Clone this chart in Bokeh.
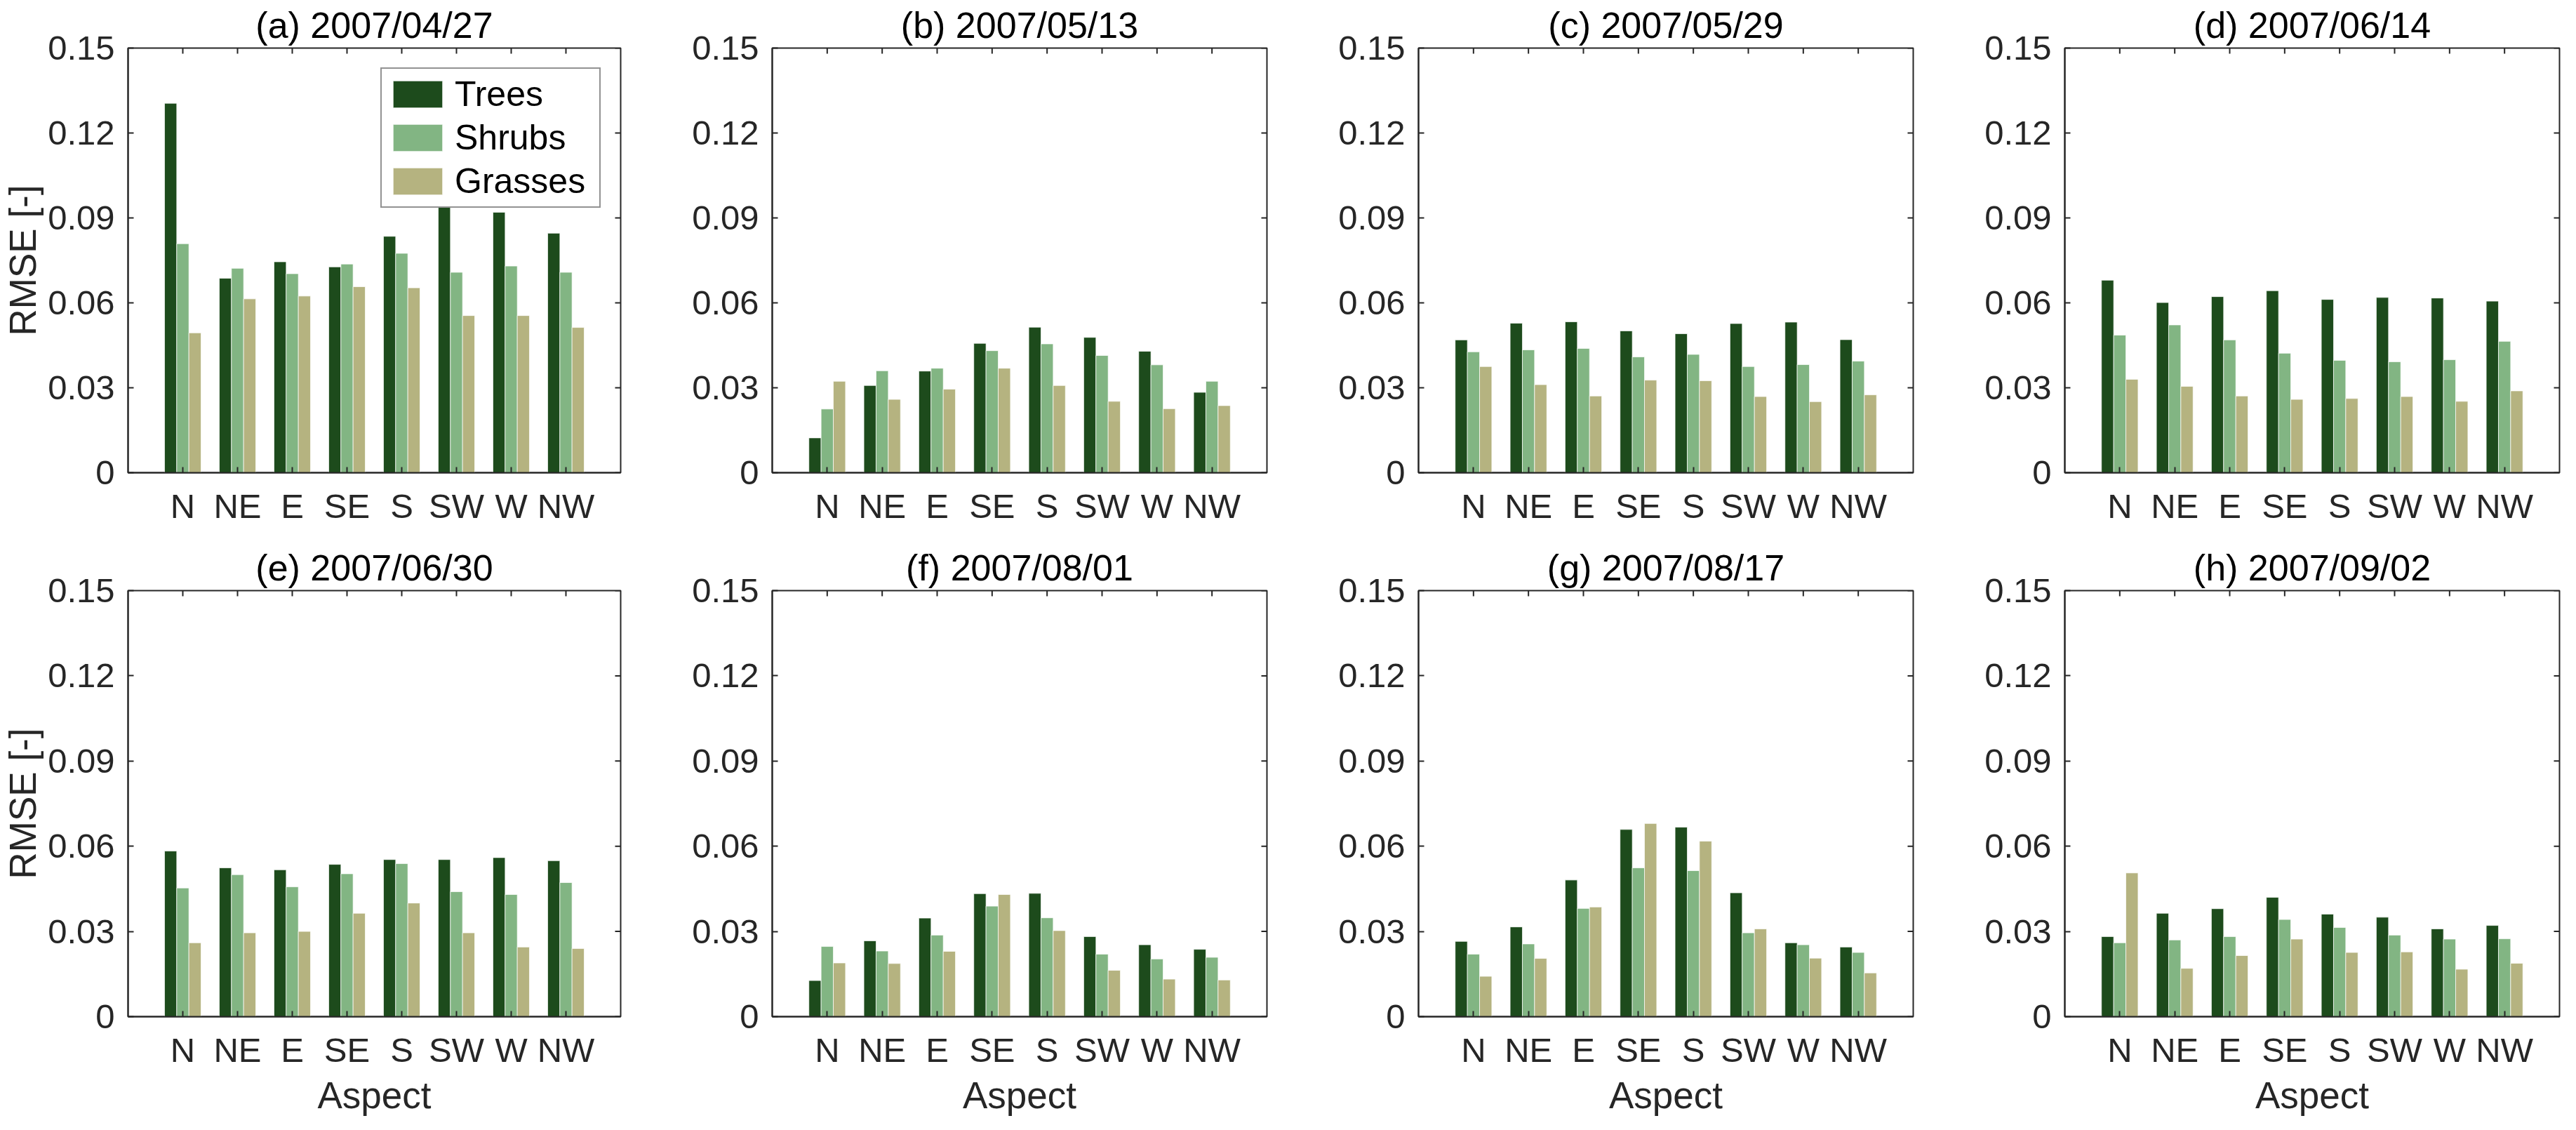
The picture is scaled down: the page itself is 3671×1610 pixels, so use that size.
import math
from bokeh.plotting import figure
from bokeh.layouts import column, row
from bokeh.models import (Range1d, FixedTicker, ColumnDataSource,
                          Legend, LegendItem)
from bokeh.transform import dodge
from bokeh.embed import file_html
from bokeh.resources import INLINE

# ---------------- data ----------------
aspects = ["N", "NE", "E", "SE", "S", "SW", "W", "NW"]
aspect_pos = [1, 2, 3, 4, 5, 6, 7, 8]
y_ticks = [0, 0.03, 0.06, 0.09, 0.12, 0.15]
y_tick_labels = ["0", "0.03", "0.06", "0.09", "0.12", "0.15"]
series = ["Trees", "Shrubs", "Grasses"]
colors = ["#1d4b1c", "#82b583", "#b5b380"]

titles = ["(a) 2007/04/27", "(b) 2007/05/13", "(c) 2007/05/29", "(d) 2007/06/14",
          "(e) 2007/06/30", "(f) 2007/08/01", "(g) 2007/08/17", "(h) 2007/09/02"]

a_trees = [0.1305, 0.0687, 0.0745, 0.0727, 0.0835, 0.0951, 0.0920, 0.0846]
a_shrubs = [0.0809, 0.0722, 0.0703, 0.0737, 0.0775, 0.0708, 0.0730, 0.0708]
a_grasses = [0.0494, 0.0614, 0.0624, 0.0657, 0.0653, 0.0555, 0.0555, 0.0513]

b_trees = [0.0123, 0.0308, 0.0359, 0.0457, 0.0514, 0.0478, 0.0429, 0.0284]
b_shrubs = [0.0225, 0.0360, 0.0369, 0.0431, 0.0455, 0.0414, 0.0381, 0.0323]
b_grasses = [0.0323, 0.0259, 0.0295, 0.0369, 0.0308, 0.0252, 0.0226, 0.0237]

c_trees = [0.0469, 0.0528, 0.0533, 0.0501, 0.0491, 0.0527, 0.0532, 0.0470]
c_shrubs = [0.0427, 0.0434, 0.0439, 0.0409, 0.0418, 0.0375, 0.0382, 0.0394]
c_grasses = [0.0375, 0.0311, 0.0271, 0.0327, 0.0325, 0.0269, 0.0251, 0.0275]

d_trees = [0.0680, 0.0601, 0.0622, 0.0643, 0.0612, 0.0619, 0.0617, 0.0606]
d_shrubs = [0.0486, 0.0522, 0.0469, 0.0422, 0.0397, 0.0392, 0.0399, 0.0464]
d_grasses = [0.0330, 0.0305, 0.0271, 0.0259, 0.0262, 0.0269, 0.0252, 0.0289]

e_trees = [0.0583, 0.0524, 0.0517, 0.0536, 0.0553, 0.0553, 0.0560, 0.0549]
e_shrubs = [0.0453, 0.0500, 0.0457, 0.0503, 0.0539, 0.0440, 0.0430, 0.0472]
e_grasses = [0.0260, 0.0295, 0.0300, 0.0364, 0.0400, 0.0295, 0.0245, 0.0240]

f_trees = [0.0127, 0.0267, 0.0347, 0.0433, 0.0434, 0.0282, 0.0253, 0.0237]
f_shrubs = [0.0247, 0.0231, 0.0287, 0.0389, 0.0348, 0.0220, 0.0203, 0.0209]
f_grasses = [0.0189, 0.0187, 0.0230, 0.0430, 0.0303, 0.0163, 0.0132, 0.0129]

g_trees = [0.0265, 0.0316, 0.0481, 0.0659, 0.0667, 0.0436, 0.0260, 0.0245]
g_shrubs = [0.0220, 0.0256, 0.0381, 0.0524, 0.0514, 0.0295, 0.0253, 0.0226]
g_grasses = [0.0142, 0.0205, 0.0386, 0.0680, 0.0618, 0.0309, 0.0206, 0.0154]

h_trees = [0.0282, 0.0364, 0.0380, 0.0420, 0.0361, 0.0350, 0.0309, 0.0321]
h_shrubs = [0.0260, 0.0270, 0.0282, 0.0342, 0.0314, 0.0287, 0.0273, 0.0274]
h_grasses = [0.0506, 0.0170, 0.0215, 0.0273, 0.0226, 0.0228, 0.0167, 0.0188]

panels = [
    (a_trees, a_shrubs, a_grasses), (b_trees, b_shrubs, b_grasses),
    (c_trees, c_shrubs, c_grasses), (d_trees, d_shrubs, d_grasses),
    (e_trees, e_shrubs, e_grasses), (f_trees, f_shrubs, f_grasses),
    (g_trees, g_shrubs, g_grasses), (h_trees, h_shrubs, h_grasses),
]

# ---------------- style / layout ----------------
FONT = "Liberation Sans"
AX = "#262626"
TICK_FS = "49px"
LABEL_FS = "53px"
TITLE_FS = "52px"
LEGEND_FS = "50px"
BAR_W = 0.222
OFFSETS = [-0.222, 0.0, 0.222]

X_MIN, X_MAX = 0, len(aspects) + 1
Y_MIN, Y_MAX = y_ticks[0], y_ticks[-1]

L_BORDER = 179
FRAME_W = 705
PITCH = 921
TOP_BORDER = 64


def style_axis(ax):
    ax.major_tick_in = 8
    ax.major_tick_out = 0
    ax.minor_tick_in = 0
    ax.minor_tick_out = 0
    ax.axis_line_color = AX
    ax.axis_line_width = 2
    ax.major_tick_line_color = AX
    ax.major_tick_line_width = 2
    ax.major_label_text_font = FONT
    ax.major_label_text_font_size = TICK_FS
    ax.major_label_text_color = AX
    ax.axis_label_text_font = FONT
    ax.axis_label_text_font_size = LABEL_FS
    ax.axis_label_text_font_style = "normal"
    ax.axis_label_text_color = AX


def make_panel(i):
    col = i % 4
    rw = i // 4
    last_col = col == 3
    width = (L_BORDER + FRAME_W + 8) if last_col else PITCH
    r_border = width - L_BORDER - FRAME_W
    if rw == 0:
        frame_h, b_border = 609, 100
    else:
        frame_h, b_border = 612, 143
    height = TOP_BORDER + frame_h + b_border

    p = figure(width=width, height=height, output_backend="svg",
               toolbar_location=None, tools="",
               x_range=Range1d(X_MIN, X_MAX), y_range=Range1d(Y_MIN, Y_MAX),
               min_border_left=L_BORDER, min_border_right=r_border,
               min_border_top=TOP_BORDER, min_border_bottom=b_border,
               title=titles[i])
    p.title.text_font = FONT
    p.title.text_font_size = TITLE_FS
    p.title.text_font_style = "normal"
    p.title.text_color = "#000000"
    p.title.align = "center"
    p.title.standoff = 8
    p.xgrid.visible = False
    p.ygrid.visible = False
    p.outline_line_color = AX
    p.outline_line_width = 2
    p.background_fill_color = "white"
    p.border_fill_color = "white"

    trees, shrubs, grasses = panels[i]
    src = ColumnDataSource(dict(x=aspect_pos, Trees=trees, Shrubs=shrubs, Grasses=grasses))
    rends = []
    for name, off, c in zip(series, OFFSETS, colors):
        r = p.vbar(x=dodge("x", off, range=p.x_range), top=name, width=BAR_W,
                   source=src, fill_color=c, line_color="white", line_width=1,
                   line_alpha=0.7)
        rends.append(r)

    # mirrored inward ticks on top and right (box on)
    p.ray(x=aspect_pos, y=[Y_MAX] * len(aspect_pos), length=8, length_units="screen",
          angle=-math.pi / 2, line_color=AX, line_width=2)
    p.ray(x=[X_MAX] * len(y_ticks), y=y_ticks, length=8, length_units="screen",
          angle=math.pi, line_color=AX, line_width=2)

    # x axis
    xax = p.xaxis[0]
    xax.ticker = FixedTicker(ticks=aspect_pos)
    xax.major_label_overrides = {k: v for k, v in zip(aspect_pos, aspects)}
    style_axis(xax)
    xax.major_label_standoff = 20
    if rw == 1:
        xax.axis_label = "Aspect"
        xax.axis_label_standoff = 5

    # y axis
    yax = p.yaxis[0]
    yax.ticker = FixedTicker(ticks=y_ticks)
    yax.major_label_overrides = {k: v for k, v in zip(y_ticks, y_tick_labels)}
    style_axis(yax)
    yax.major_label_standoff = 19
    if col == 0:
        yax.axis_label = "RMSE [-]"
        yax.axis_label_standoff = 3

    if i == 0:
        items = [LegendItem(label=n, renderers=[r]) for n, r in zip(series, rends)]
        lg = Legend(items=items, location="top_right", margin=28,
                    padding=7, spacing=4, glyph_width=88, glyph_height=48,
                    label_height=48, label_width=199, label_standoff=9,
                    label_text_font=FONT, label_text_font_size=LEGEND_FS,
                    label_text_color="#000000",
                    border_line_color=AX, border_line_width=2,
                    background_fill_color="white", background_fill_alpha=1.0)
        p.add_layout(lg)
    return p


figs = [make_panel(i) for i in range(8)]
layout = column(row(*figs[:4]), row(*figs[4:]))

open("out.html", "w").write(file_html(layout, INLINE))
